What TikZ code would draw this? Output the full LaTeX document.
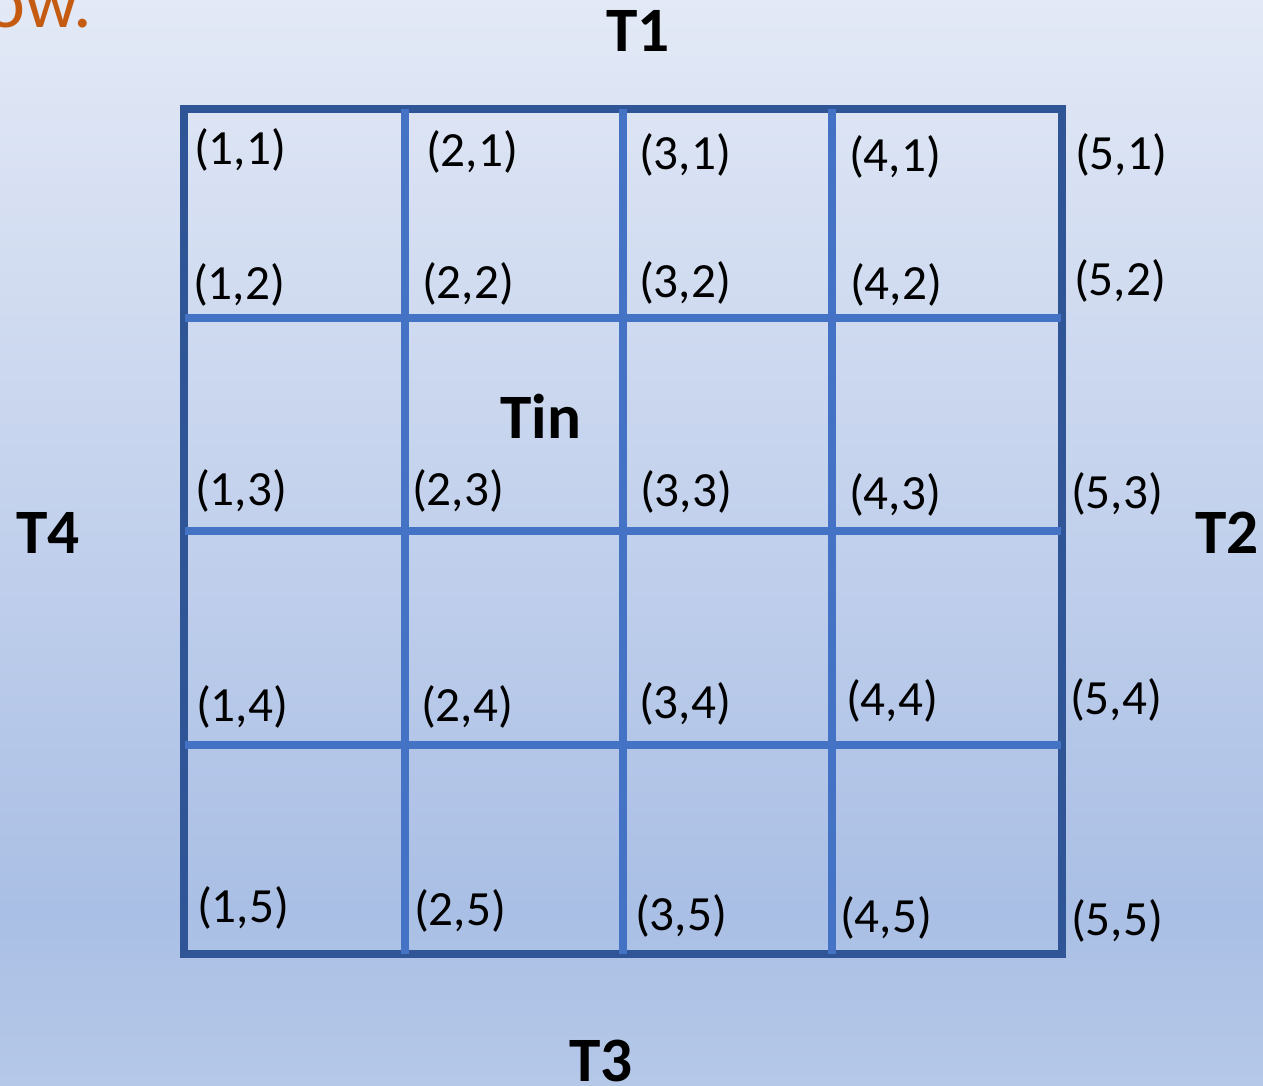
\documentclass[tikz,border=0pt]{standalone}
\usepackage{fontspec}
\setmainfont{Carlito}
\begin{document}
\definecolor{bgtop}{RGB}{227,233,246}
\definecolor{bgmid}{RGB}{170,191,229}
\definecolor{bgbot}{RGB}{181,200,232}
\definecolor{outerblue}{RGB}{47,85,151}
\definecolor{innerblue}{RGB}{68,114,196}
\definecolor{orangetxt}{RGB}{197,90,17}
\tikzset{
  lbl/.style={inner sep=0pt, font=\fontsize{28}{32}\selectfont, text=black},
  side/.style={inner sep=0pt, font=\fontsize{36}{40}\selectfont\bfseries, text=black},
  gridline/.style={draw=innerblue, line width=4.4pt},
  border/.style={draw=outerblue, line width=4.8pt}
}
\begin{tikzpicture}[x=0.02cm,y=-0.02cm]
\useasboundingbox (0,0) rectangle (1263,1085);
\clip (0,0) rectangle (1263,1085);
\shade[top color=bgtop, bottom color=bgmid] (0,0) rectangle (1263,910);
\shade[top color=bgmid, bottom color=bgbot] (0,909) rectangle (1263,1085);
% partial heading text
\node[anchor=base west, inner sep=0pt, font=\fontsize{42}{46}\selectfont, text=orangetxt] (hd) at (-14,28) {ow.};
% grid
\draw[border] (184,109) rectangle (1062,954);
\foreach \x in {405,623,832} \draw[gridline] (\x,109) -- (\x,954);
\foreach \y in {318,531,745} \draw[gridline] (185,\y) -- (1061,\y);
% side labels
\node[side] (t1) at (638,31) {T1};
\node[side] (t2) at (1227,533) {T2};
\node[side] (t3) at (601,1061) {T3};
\node[side] (t4) at (48,533) {T4};
\node[side] (tin) at (541,416) {Tin};
% cell labels
\node[lbl] (c11) at (240,150) {(1,1)};
\node[lbl] (c21) at (472,152) {(2,1)};
\node[lbl] (c31) at (685,155) {(3,1)};
\node[lbl] (c41) at (895,157) {(4,1)};
\node[lbl] (c51) at (1121,155) {(5,1)};
\node[lbl] (c12) at (239,285) {(1,2)};
\node[lbl] (c22) at (468,284) {(2,2)};
\node[lbl] (c32) at (685,283) {(3,2)};
\node[lbl] (c42) at (896,285) {(4,2)};
\node[lbl] (c52) at (1120,281) {(5,2)};
\node[lbl] (c13) at (241,491) {(1,3)};
\node[lbl] (c23) at (458,491) {(2,3)};
\node[lbl] (c33) at (686,492) {(3,3)};
\node[lbl] (c43) at (895,495) {(4,3)};
\node[lbl] (c53) at (1117,494) {(5,3)};
\node[lbl] (c14) at (242,707) {(1,4)};
\node[lbl] (c24) at (467,707) {(2,4)};
\node[lbl] (c34) at (685,704) {(3,4)};
\node[lbl] (c44) at (892,701) {(4,4)};
\node[lbl] (c54) at (1116,700) {(5,4)};
\node[lbl] (c15) at (243,908) {(1,5)};
\node[lbl] (c25) at (460,911) {(2,5)};
\node[lbl] (c35) at (681,916) {(3,5)};
\node[lbl] (c45) at (886,918) {(4,5)};
\node[lbl] (c55) at (1117,921) {(5,5)};
\end{tikzpicture}
\end{document}
